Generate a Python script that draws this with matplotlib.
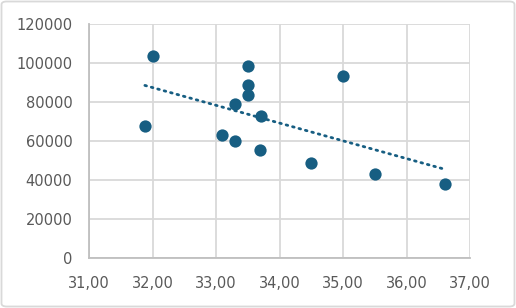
import numpy as np
import matplotlib
matplotlib.use("Agg")
import matplotlib.pyplot as plt
from matplotlib.patches import FancyBboxPatch
from matplotlib.ticker import FuncFormatter

x_vals = [31.88, 32.00, 33.09, 33.30, 33.30, 33.50, 33.50, 33.50, 33.71, 33.70, 34.50, 35.00, 35.50, 36.60]
y_vals = [67700, 103600, 63100, 79000, 60000, 98500, 88700, 83600, 72800, 55400, 48700, 93300, 43100, 37900]
x_ticks = [31, 32, 33, 34, 35, 36, 37]
y_ticks = [0, 20000, 40000, 60000, 80000, 100000, 120000]

color = "#175e82"
grid_c = "#d9d9d9"
text_c = "#595959"

fig = plt.figure(figsize=(5.16, 3.08), dpi=100)
ax = fig.add_axes([89/516, 1 - 258/308, (470-89)/516, (258-24)/308])

ax.scatter(x_vals, y_vals, s=78, color=color, zorder=3, linewidths=0)

xa = np.array(x_vals); ya = np.array(y_vals)
m, b = np.polyfit(xa, ya, 1)
xs = np.array([xa.min(), xa.max()])
ax.plot(xs, m*xs + b, color=color, lw=2.0, linestyle=(0, (0.6, 1.8)),
        dash_capstyle="round", zorder=2)

ax.set_xlim(31, 37)
ax.set_ylim(0, 120000)
ax.set_xticks(x_ticks)
ax.set_yticks(y_ticks)
ax.xaxis.set_major_formatter(FuncFormatter(lambda v, p: f"{v:.2f}".replace(".", ",")))
ax.yaxis.set_major_formatter(FuncFormatter(lambda v, p: f"{int(v)}"))
ax.grid(True, color=grid_c, lw=1.3, zorder=0)
ax.set_axisbelow(True)
for s in ["top", "right"]:
    ax.spines[s].set_visible(False)
for s in ["left", "bottom"]:
    ax.spines[s].set_color("#bfbfbf")
    ax.spines[s].set_linewidth(1.3)
ax.tick_params(length=0, labelsize=10.5, labelcolor=text_c)
ax.tick_params(axis="y", pad=12)
ax.tick_params(axis="x", pad=13)

border = FancyBboxPatch((1.5/516, 1.5/308), 513/516, 305/308,
                        boxstyle="round,pad=0,rounding_size=0.01",
                        transform=fig.transFigure, fill=False,
                        edgecolor=grid_c, lw=1.3)
fig.patches.append(border)

fig.savefig("out.png", dpi=100)
